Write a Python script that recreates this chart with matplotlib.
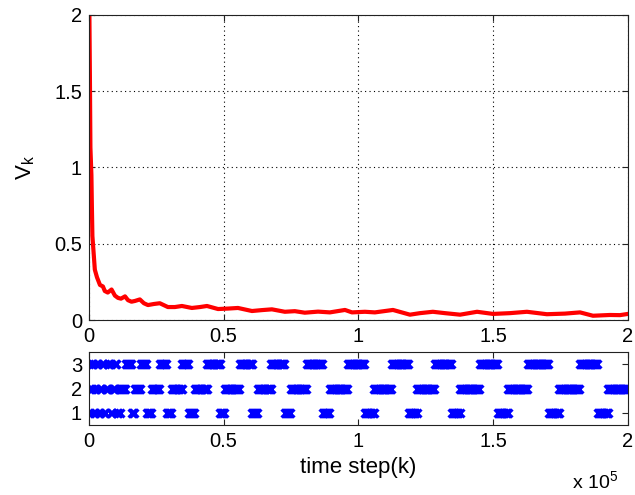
import numpy as np
import matplotlib
matplotlib.use("Agg")
import matplotlib.pyplot as plt
from matplotlib.ticker import FuncFormatter

plt.rcParams["font.family"] = ["Liberation Sans", "DejaVu Sans"]
plt.rcParams["mathtext.fontset"] = "custom"
plt.rcParams["mathtext.rm"] = "Liberation Sans"
plt.rcParams["mathtext.it"] = "Liberation Sans"

# Lyapunov-like value V_k (k = time step)
v_k = [0, 185, 370, 560, 930, 1100, 1300, 1670, 2200, 3000, 4100, 5200,
       5900, 7000, 8400, 9650, 10800, 11900, 13400, 14500, 15800, 17100,
       18900, 20400, 21900, 24100, 26300, 29300, 31900, 34500, 38200,
       41200, 43800, 47900, 51600, 55300, 60500, 64200, 67900, 72700,
       76400, 80100, 85000, 89400, 95000, 97600, 102400, 106100, 112800,
       119100, 122800, 127600, 132100, 137700, 144000, 149900, 156200,
       162500, 169900, 176600, 182200, 187000, 193300, 197000, 200000]
v_val = [2.4, 2.0, 1.6, 1.13, 0.95, 0.75, 0.55, 0.46, 0.33, 0.28, 0.23, 0.22,
         0.19, 0.18, 0.2, 0.16, 0.145, 0.14, 0.155, 0.13, 0.12, 0.125,
         0.135, 0.11, 0.098, 0.105, 0.11, 0.085, 0.085, 0.092, 0.079,
         0.085, 0.092, 0.072, 0.075, 0.079, 0.059, 0.065, 0.07, 0.054,
         0.058, 0.048, 0.055, 0.05, 0.066, 0.05, 0.054, 0.05, 0.066,
         0.035, 0.045, 0.054, 0.045, 0.035, 0.054, 0.04, 0.045,
         0.054, 0.038, 0.042, 0.05, 0.028, 0.033, 0.032, 0.04]

# switching signal: segment boundaries (time steps) and active mode per segment
switch_k = [0, 371, 742, 1299, 1855, 2412, 2969, 3711, 4267, 5009, 5751,
            6308, 7236, 8163, 8905, 9833, 10575, 11503, 13729, 15956, 17069,
            19295, 21521, 23377, 26345, 28943, 30798, 34509, 37106, 39333,
            43786, 48609, 50464, 56030, 60483, 62709, 67533, 72728, 74955,
            80891, 86828, 89426, 96105, 102414, 105752, 112432, 118740,
            121709, 128388, 134696, 137665, 145086, 151765, 155476, 162897,
            170690, 174401, 182193, 188872, 192583, 200000]
modes = [3, 1, 2, 3, 1, 2, 3, 1, 2, 3, 1, 2, 3, 1, 2, 3, 1, 2, 3, 1,
         2, 3, 1, 2, 3, 1, 2, 3, 1, 2, 3, 1, 2, 3, 1, 2, 3, 1, 2, 3,
         1, 2, 3, 1, 2, 3, 1, 2, 3, 1, 2, 3, 1, 2, 3, 1, 2, 3, 1, 2]

x_ticks = [0, 50000, 100000, 150000, 200000]
SAMPLE_STEP = 400


def sci_fmt(x, pos):
    return f"{x / 1e5:g}"


def style_axes(ax):
    for s in ax.spines.values():
        s.set_color("#222222")
        s.set_linewidth(0.8)
    ax.tick_params(direction="in", top=True, right=True, length=4,
                   width=0.8, labelsize=14.5, color="#222222", pad=5)
    ax.set_xlim(0, 200000)
    ax.set_xticks(x_ticks)
    ax.xaxis.set_major_formatter(FuncFormatter(sci_fmt))


fig = plt.figure(figsize=(6.35, 4.95), dpi=100)
ax1 = fig.add_axes([0.140, 0.3535, 0.849, 0.6165])
ax2 = fig.add_axes([0.140, 0.1414, 0.849, 0.1475])

ax1.plot(v_k, v_val, color="red", linewidth=3.0)
style_axes(ax1)
ax1.set_ylim(0, 2)
ax1.set_yticks([0, 0.5, 1, 1.5, 2])
ax1.yaxis.set_major_formatter(FuncFormatter(lambda y, p: f"{y:g}"))
ax1.grid(True, linestyle=(0, (1, 3)), color="black", linewidth=0.8)
ax1.set_ylabel(r"V$_{\mathrm{k}}$", fontsize=16, labelpad=12)

# markers for each active interval of the switching signal
xs, ys = [], []
for i, m in enumerate(modes):
    pts = np.arange(switch_k[i], switch_k[i + 1], SAMPLE_STEP)
    xs.extend(pts)
    ys.extend([m] * len(pts))
ax2.plot(xs, ys, linestyle="none", marker="x", color="blue",
         markersize=6, markeredgewidth=2.2, clip_on=True)
style_axes(ax2)
ax2.set_ylim(0.5, 3.5)
ax2.set_yticks([1, 2, 3])

fig.text(358 / 635, 1 - 467 / 495, "time step(k)", ha="center",
         va="center", fontsize=16)
fig.text(572 / 635, 1 - 488 / 495, r"x 10$^{5}$", ha="left",
         va="baseline", fontsize=14)

fig.savefig("out.png", dpi=100)
